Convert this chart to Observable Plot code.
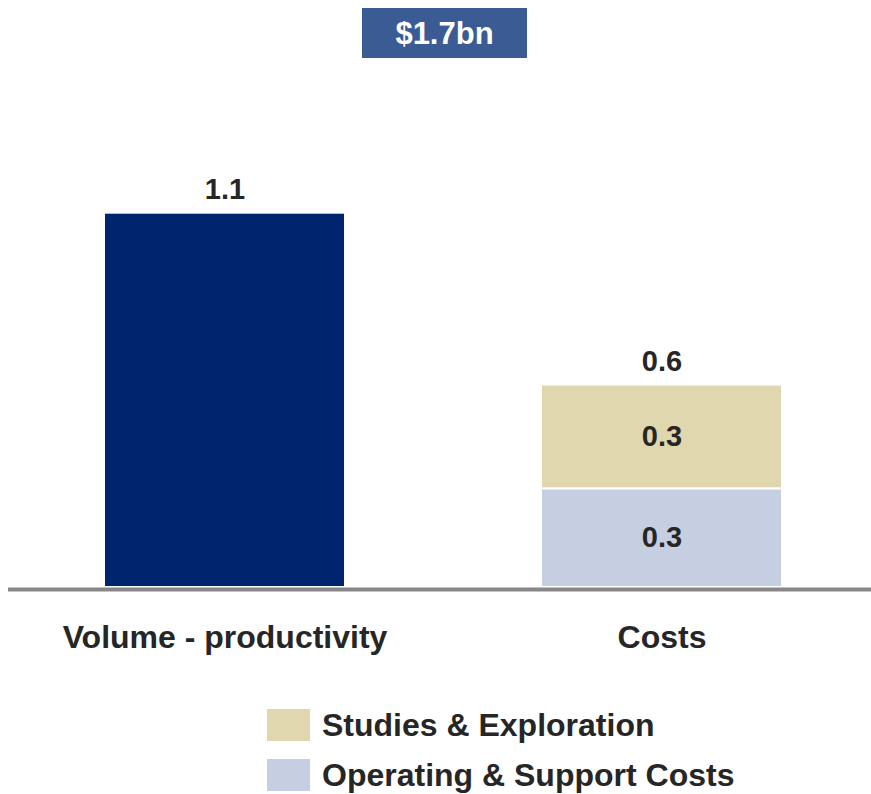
<!DOCTYPE html>
<html>
<head>
<meta charset="utf-8">
<script src="https://cdn.jsdelivr.net/npm/d3@7"></script>
<script src="https://cdn.jsdelivr.net/npm/@observablehq/plot@0.6"></script>
<style>
  body { margin: 0; width: 871px; height: 794px; position: relative; background: #fff;
         font-family: "Liberation Sans", Arial, sans-serif; overflow: hidden; }
  #title { position: absolute; left: 362px; top: 8px; width: 165px; height: 50px;
           background: #3b5b95; color: #fff; font-weight: bold; font-size: 31px;
           line-height: 52px; text-align: center; }
  #chart { position: absolute; left: 0; top: 60px; }
  #legend { position: absolute; left: 267px; top: 709px; }
  .row { display: flex; align-items: center; height: 32px; margin-bottom: 18px; }
  .sw { width: 43px; height: 32px; margin-right: 12px; }
  .lab { font-weight: bold; font-size: 32px; color: #262626; white-space: nowrap; line-height: 32px; }
</style>
</head>
<body>
<div id="title"></div>
<div id="chart"></div>
<div id="legend"></div>
<script>
const totalTitle = "$1.7bn";
const categories = ["Volume - productivity", "Costs"];
const barCategory = ["Volume - productivity", "Costs", "Costs"];
const barSeries = ["Volume - productivity", "Operating & Support Costs", "Studies & Exploration"];
const barValues = [1.1, 0.29, 0.305];
const seriesColors = ["#00256f", "#c5cfe1", "#e0d7ae"];
const legendSeries = ["Studies & Exploration", "Operating & Support Costs"];

const data = barCategory.map((c, i) => ({category: c, series: barSeries[i], value: barValues[i]}));
const totals = categories.map(c => ({category: c, total: d3.sum(data.filter(d => d.category === c), d => d.value)}));
const segs = data.filter(d => d.category !== d.series);

document.getElementById("title").textContent = totalTitle;

const chart = Plot.plot({
  width: 871,
  height: 640,
  marginLeft: 15,
  marginRight: 0,
  marginTop: 152.7,
  marginBottom: 113,
  style: {fontFamily: "'Liberation Sans', Arial, sans-serif", fontWeight: "bold", background: "transparent"},
  x: {domain: categories, paddingInner: 0.4475, paddingOuter: 0.201, label: null},
  y: {domain: [0, 1.1], axis: null},
  color: {domain: barSeries, range: seriesColors},
  marks: [
    Plot.barY(data, Plot.stackY({x: "category", y: "value", fill: "series", order: barSeries, stroke: "white", strokeWidth: 2})),
    Plot.ruleY([0], {stroke: "#878787", strokeWidth: 4, dy: 2, insetLeft: -7}),
    Plot.text(segs, Plot.stackY({x: "category", y: "value", z: "series", order: barSeries.slice(1), text: d => d.value.toFixed(1), fontSize: 29, fill: "#262626"})),
    Plot.text(totals, {x: "category", y: "total", text: d => d.total.toFixed(1), lineAnchor: "bottom", dy: -14, fontSize: 29, fill: "#262626"}),
    Plot.axisX({tickSize: 0, tickPadding: 38, fontSize: 32, fill: "#262626", label: null})
  ]
});
document.getElementById("chart").appendChild(chart);

const legend = document.getElementById("legend");
legendSeries.forEach(s => {
  const row = document.createElement("div");
  row.className = "row";
  const sw = document.createElement("div");
  sw.className = "sw";
  sw.style.background = seriesColors[barSeries.indexOf(s)];
  const lab = document.createElement("div");
  lab.className = "lab";
  lab.textContent = s;
  row.appendChild(sw);
  row.appendChild(lab);
  legend.appendChild(row);
});
</script>
</body>
</html>
